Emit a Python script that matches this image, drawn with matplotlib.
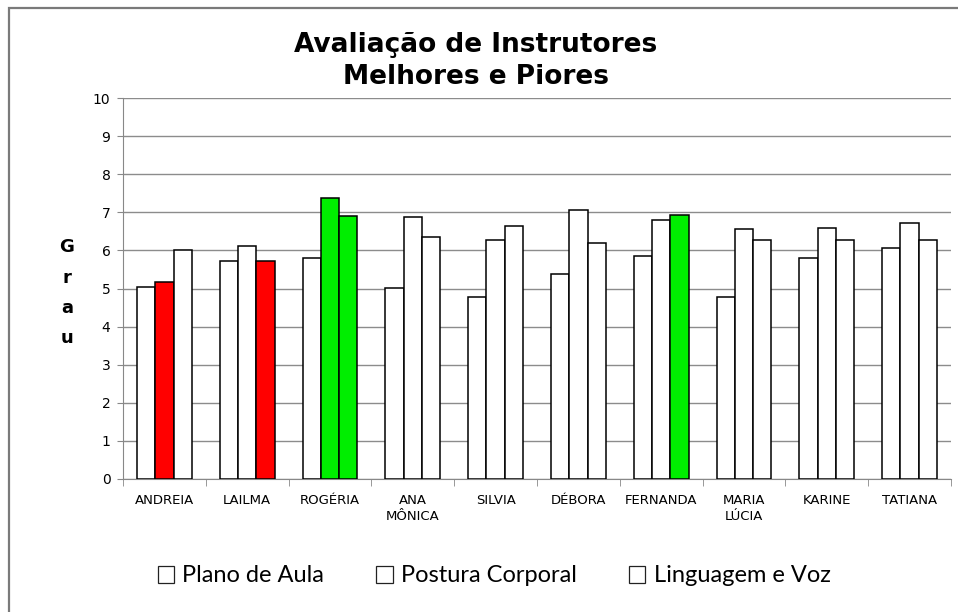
import matplotlib.pyplot as plt
import matplotlib.patches as mpatches
import numpy as np

# Dados
instrutores = ['ANDREIA', 'LAILMA', 'ROGÉRIA', 'ANA\nMÔNICA', 'SILVIA', 'DÉBORA',
               'FERNANDA', 'MARIA\nLÚCIA', 'KARINE', 'TATIANA']
series = ['Plano de Aula', 'Postura Corporal', 'Linguagem e Voz']
plano_aula = [5.05, 5.73, 5.79, 5.01, 4.78, 5.39, 5.85, 4.78, 5.79, 6.06]
postura = [5.18, 6.12, 7.38, 6.87, 6.26, 7.07, 6.81, 6.57, 6.60, 6.71]
linguagem = [6.00, 5.73, 6.91, 6.36, 6.64, 6.20, 6.94, 6.26, 6.26, 6.26]

# destaques (indice instrutor, indice serie)
piores = [(0, 1), (1, 2)]
melhores = [(2, 1), (2, 2), (6, 2)]

fig = plt.figure(figsize=(9.58, 6.12), dpi=100)
ax = fig.add_axes([123/958, 1 - 479/612, (951 - 123)/958, (479 - 98)/612])

# borda externa do grafico
fig.patches.append(mpatches.Rectangle((9/958, -0.01), 1.0, 1 - 8/612 + 0.01,
                                      transform=fig.transFigure, fill=False,
                                      edgecolor='#7a7a7a', linewidth=1.6))

x = np.arange(len(instrutores))
w = 0.221
dados = [plano_aula, postura, linguagem]
for s, vals in enumerate(dados):
    cores = []
    for i in range(len(instrutores)):
        if (i, s) in piores:
            cores.append('#ff0000')
        elif (i, s) in melhores:
            cores.append('#00ee00')
        else:
            cores.append('white')
    ax.bar(x + (s - 1) * w, vals, width=w, color=cores, edgecolor='black',
           linewidth=1.1, zorder=3)

ax.set_xlim(-0.5, len(instrutores) - 0.5)
ax.set_ylim(0, 10)
ax.set_yticks(range(0, 11))
ax.tick_params(axis='y', labelsize=10, length=4, color='#888888', pad=5)
ax.set_xticks(x)
ax.set_xticklabels(instrutores, fontsize=9.5, linespacing=1.3)
ax.tick_params(axis='x', which='major', length=0, pad=11)
ax.set_xticks(np.arange(-0.5, len(instrutores)), minor=True)
ax.tick_params(axis='x', which='minor', length=5, color='#888888')
ax.grid(axis='y', color='#8c8c8c', linewidth=1, zorder=0)
for sp in ['top', 'right']:
    ax.spines[sp].set_visible(False)
for sp in ['left', 'bottom']:
    ax.spines[sp].set_color('#888888')

# titulo
fig.text(476/958, 1 - 52/612, 'Avaliação de Instrutores', ha='center', va='baseline',
         fontsize=19, fontweight='bold')
fig.text(476/958, 1 - 84/612, 'Melhores e Piores', ha='center', va='baseline',
         fontsize=19, fontweight='bold')

# rotulo do eixo y, letra por letra
for letra, base in zip('Grau', [252, 283, 313, 343]):
    fig.text(67/958, 1 - base/612, letra, ha='center', va='baseline',
             fontsize=13, fontweight='bold')

handles = [mpatches.Patch(facecolor='white', edgecolor='#222222', linewidth=0.9, label=s)
           for s in series]
fig.legend(handles=handles, loc='center', bbox_to_anchor=(494/958, 1 - 576/612),
           ncol=3, frameon=False, handlelength=0.7, handleheight=0.7,
           handletextpad=0.35, columnspacing=2.2, prop={'family': 'Lato', 'size': 17})

plt.savefig('out.png', dpi=100)
